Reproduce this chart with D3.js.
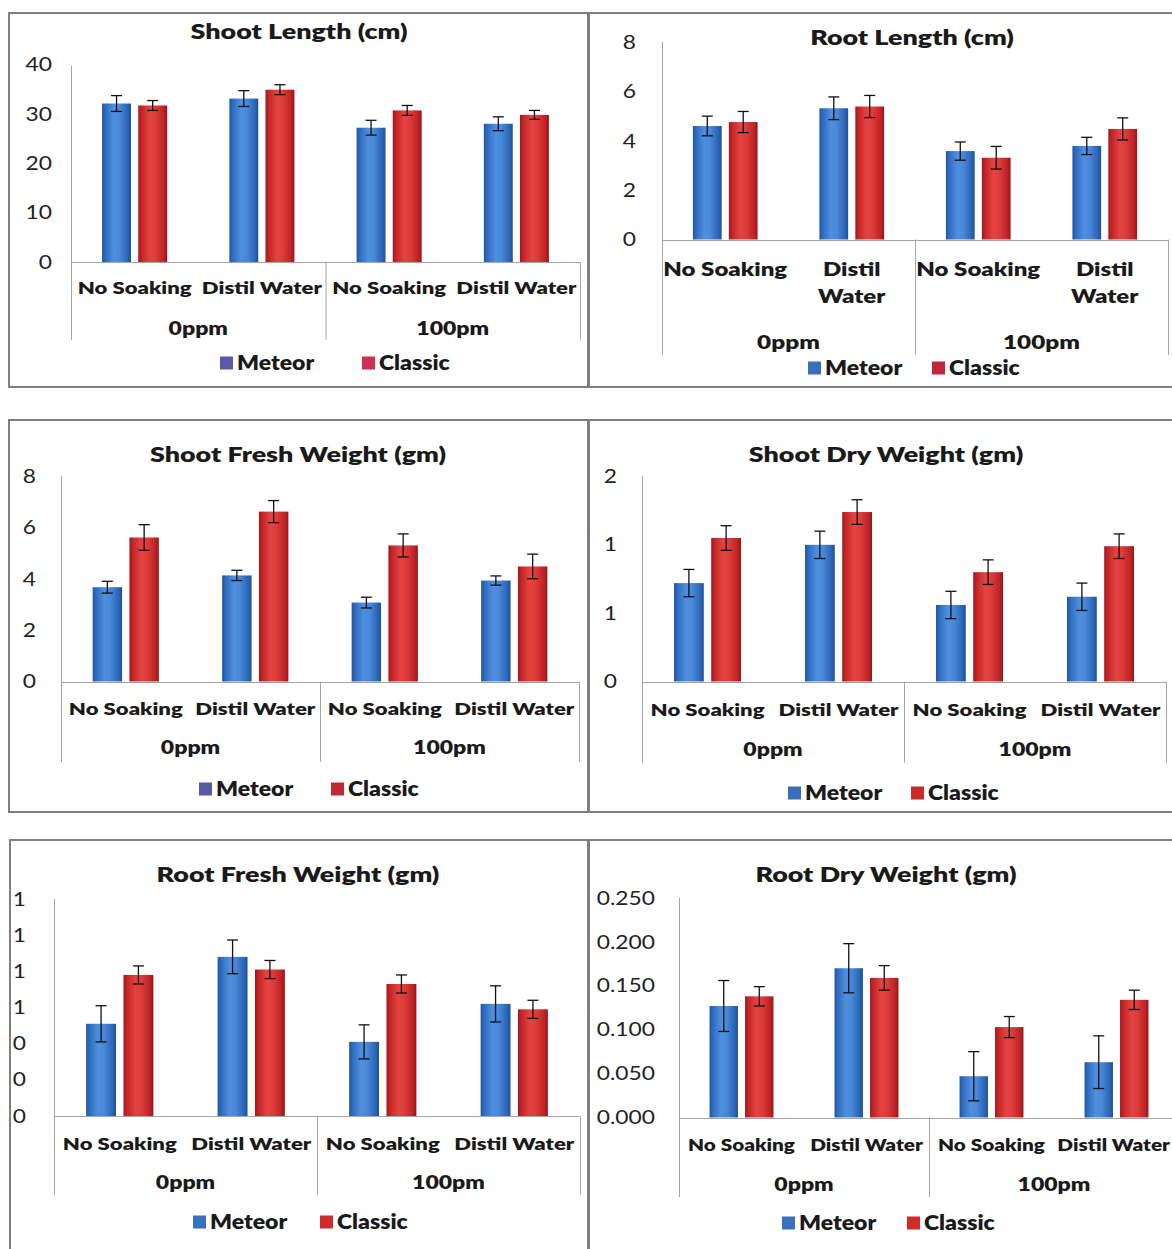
<!DOCTYPE html>
<html><head><meta charset="utf-8">
<script src="https://cdn.jsdelivr.net/npm/d3@7"></script>
<style>body{margin:0;background:#fff}svg{display:block}text{font-family:Lato,"Open Sans",sans-serif}</style>
</head><body><svg id="c" width="1172" height="1249"></svg>
<script>
// ---------- data ----------
const categories = ["No Soaking", "Distil Water", "No Soaking", "Distil Water"];
const groups = ["0ppm", "100pm"];
const seriesNames = ["Meteor", "Classic"];

const shootLengthMeteor = [32.1, 33.1, 27.2, 28.0];
const shootLengthClassic = [31.7, 34.9, 30.7, 29.8];
const shootLengthMeteorErr = [1.6, 1.6, 1.5, 1.4];
const shootLengthClassicErr = [1.0, 1.0, 1.0, 0.9];
const shootLengthTicks = [0, 10, 20, 30, 40];
const shootLengthTickLabels = ["0", "10", "20", "30", "40"];

const rootLengthMeteor = [4.61, 5.33, 3.59, 3.80];
const rootLengthClassic = [4.77, 5.40, 3.32, 4.49];
const rootLengthMeteorErr = [0.40, 0.46, 0.37, 0.35];
const rootLengthClassicErr = [0.43, 0.45, 0.46, 0.45];
const rootLengthTicks = [0, 2, 4, 6, 8];
const rootLengthTickLabels = ["0", "2", "4", "6", "8"];

const shootFreshMeteor = [3.68, 4.14, 3.08, 3.94];
const shootFreshClassic = [5.62, 6.63, 5.31, 4.49];
const shootFreshMeteorErr = [0.23, 0.20, 0.21, 0.18];
const shootFreshClassicErr = [0.50, 0.43, 0.45, 0.48];
const shootFreshTicks = [0, 2, 4, 6, 8];
const shootFreshTickLabels = ["0", "2", "4", "6", "8"];

const shootDryMeteor = [0.72, 1.00, 0.56, 0.62];
const shootDryClassic = [1.05, 1.24, 0.80, 0.99];
const shootDryMeteorErr = [0.10, 0.10, 0.10, 0.10];
const shootDryClassicErr = [0.09, 0.09, 0.09, 0.09];
const shootDryTicks = [0, 0.5, 1, 1.5];
const shootDryTickLabels = ["0", "1", "1", "2"];

const rootFreshMeteor = [0.51, 0.88, 0.41, 0.62];
const rootFreshClassic = [0.78, 0.81, 0.73, 0.59];
const rootFreshMeteorErr = [0.10, 0.093, 0.094, 0.10];
const rootFreshClassicErr = [0.05, 0.05, 0.05, 0.05];
const rootFreshTicks = [0, 0.2, 0.4, 0.6, 0.8, 1.0, 1.2];
const rootFreshTickLabels = ["0", "0", "0", "1", "1", "1", "1"];

const rootDryMeteor = [0.127, 0.170, 0.047, 0.063];
const rootDryClassic = [0.138, 0.159, 0.103, 0.134];
const rootDryMeteorErr = [0.029, 0.028, 0.028, 0.030];
const rootDryClassicErr = [0.011, 0.014, 0.012, 0.011];
const rootDryTicks = [0, 0.05, 0.10, 0.15, 0.20, 0.25];
const rootDryTickLabels = ["0.000", "0.050", "0.100", "0.150", "0.200", "0.250"];

// ---------- layout ----------
const panels = [
  {title:"Shoot Length (cm)", vals:[shootLengthMeteor, shootLengthClassic], errs:[shootLengthMeteorErr, shootLengthClassicErr],
   ticks:shootLengthTicks, tickLabels:shootLengthTickLabels,
   box:[9,13,588,387], x0:71, x1:580, topPx:64.5, zeroPx:262, axisTop:66, sepBottom:340, labelEnd:52,
   titleX:299, titleY:31, catY:288, wrap:false, catSx:1.3, groupY:329, legendY:363, legendX:[220,362], swatch:["#5b5aa6","#cf2f55"]},
  {title:"Root Length (cm)", vals:[rootLengthMeteor, rootLengthClassic], errs:[rootLengthMeteorErr, rootLengthClassicErr],
   ticks:rootLengthTicks, tickLabels:rootLengthTickLabels,
   box:[589,13,1190,387], x0:662, x1:1168, topPx:42.5, zeroPx:239.5, axisTop:42, sepBottom:355, labelEnd:636,
   titleX:912, titleY:37, catY:270, wrap:true, catSx:1.3, groupY:342, legendY:368, legendX:[808,932], swatch:["#3a6fc0","#c0283c"]},
  {title:"Shoot Fresh Weight (gm)", vals:[shootFreshMeteor, shootFreshClassic], errs:[shootFreshMeteorErr, shootFreshClassicErr],
   ticks:shootFreshTicks, tickLabels:shootFreshTickLabels,
   box:[9,420,588,812], x0:61, x1:579, topPx:476.5, zeroPx:681.5, axisTop:476, sepBottom:762, labelEnd:36,
   titleX:298, titleY:454, catY:709, wrap:false, catSx:1.3, groupY:748, legendY:789, legendX:[199,331], swatch:["#5a5aa0","#c02838"]},
  {title:"Shoot Dry Weight (gm)", vals:[shootDryMeteor, shootDryClassic], errs:[shootDryMeteorErr, shootDryClassicErr],
   ticks:shootDryTicks, tickLabels:shootDryTickLabels,
   box:[589,420,1190,812], x0:642, x1:1166, topPx:476.5, zeroPx:681.5, axisTop:476, sepBottom:763, labelEnd:617,
   titleX:886, titleY:454, catY:710, wrap:false, catSx:1.3, groupY:750, legendY:793, legendX:[788,911], swatch:["#3a70b8","#cc2a2a"]},
  {title:"Root Fresh Weight (gm)", vals:[rootFreshMeteor, rootFreshClassic], errs:[rootFreshMeteorErr, rootFreshClassicErr],
   ticks:rootFreshTicks, tickLabels:rootFreshTickLabels,
   box:[10,840,588,1265], x0:54, x1:580, topPx:899, zeroPx:1116, axisTop:899, sepBottom:1195, labelEnd:26,
   titleX:298, titleY:874, catY:1144, wrap:false, catSx:1.3, groupY:1183, legendY:1222, legendX:[193,320], swatch:["#3a70c0","#d02a2a"]},
  {title:"Root Dry Weight (gm)", vals:[rootDryMeteor, rootDryClassic], errs:[rootDryMeteorErr, rootDryClassicErr],
   ticks:rootDryTicks, tickLabels:rootDryTickLabels,
   box:[589,840,1190,1265], x0:679, x1:1179, topPx:898, zeroPx:1117.5, axisTop:898, sepBottom:1197, labelEnd:655,
   titleX:886, titleY:874, catY:1145, wrap:false, catSx:1.22, groupY:1185, legendY:1223, legendX:[782,907], swatch:["#3a70c0","#d02a2a"]}
];

const svg = d3.select("#c");
const defs = svg.append("defs");
function grad(id, stops){
  const g = defs.append("linearGradient").attr("id", id).attr("x1","0").attr("x2","1").attr("y1","0").attr("y2","0");
  stops.forEach(s => g.append("stop").attr("offset", s[0]).attr("stop-color", s[1]));
}
grad("gBlue", [[0,"#2156a3"],[0.12,"#2f6cc0"],[0.4,"#4f8fdf"],[0.6,"#4a88d8"],[0.88,"#2c66b6"],[1,"#1f4f96"]]);
grad("gRed", [[0,"#a3161b"],[0.12,"#c42628"],[0.4,"#e34442"],[0.6,"#dd3c3b"],[0.88,"#be2326"],[1,"#9a1418"]]);
const fills = ["url(#gBlue)", "url(#gRed)"];

svg.append("rect").attr("width",1172).attr("height",1249).attr("fill","#fff");

// text helper: horizontally stretched real text
function txt(g, x, y, str, size, weight, sx, anchor){
  return g.append("text").attr("transform", `translate(${x},${y}) scale(${sx},1)`)
    .attr("dy","0.35em").attr("text-anchor", anchor || "middle")
    .attr("font-size", size).attr("font-weight", weight).attr("fill", "#1a1a1a").text(str);
}

panels.forEach(p => {
  const g = svg.append("g");
  const [bx0, by0, bx1, by1] = p.box;
  g.append("rect").attr("x",bx0).attr("y",by0).attr("width",bx1-bx0).attr("height",by1-by0)
    .attr("fill","#fff").attr("stroke","#7f7f7f").attr("stroke-width",2);

  const yMax = p.ticks[p.ticks.length-1];
  const y = d3.scaleLinear().domain([0, yMax]).range([p.zeroPx, p.topPx]);
  const xCat = d3.scaleBand().domain(d3.range(categories.length)).range([p.x0, p.x1]).paddingInner(0).paddingOuter(0);
  const xSer = d3.scaleBand().domain(seriesNames).range([0, xCat.bandwidth()]).paddingInner(0.2).paddingOuter(0.86);

  // title
  txt(g, p.titleX, p.titleY, p.title, 21.5, 800, 1.25);

  // y tick labels
  p.ticks.forEach((d, i) => {
    g.append("text").attr("class","yt")
      .attr("transform", `translate(${p.labelEnd},${y(d)}) scale(1.2,1)`)
      .attr("dy","0.35em").attr("text-anchor","end")
      .attr("font-size",19).attr("fill","#222").text(p.tickLabels[i]);
  });

  // axis lines
  const axC = "#a6a6a6";
  g.append("line").attr("x1",p.x0+0.5).attr("x2",p.x0+0.5).attr("y1",p.axisTop).attr("y2",p.sepBottom).attr("stroke",axC);
  g.append("line").attr("x1",p.x0).attr("x2",p.x1).attr("y1",Math.round(p.zeroPx)+0.5).attr("y2",Math.round(p.zeroPx)+0.5).attr("stroke",axC);
  const midX = xCat(2);
  [midX, p.x1].forEach(xx => g.append("line").attr("x1",xx+0.5).attr("x2",xx+0.5).attr("y1",p.zeroPx).attr("y2",p.sepBottom).attr("stroke",axC));

  // bars
  seriesNames.forEach((s, si) => {
    g.selectAll("rect.b"+si).data(p.vals[si]).join("rect").attr("class","b"+si)
      .attr("x",(d,i)=>xCat(i)+xSer(s)).attr("width",xSer.bandwidth())
      .attr("y",d=>y(d)).attr("height",d=>p.zeroPx-y(d)).attr("fill",fills[si]);
  });
  // error bars
  seriesNames.forEach((s, si) => {
    p.vals[si].forEach((v, i) => {
      const e = p.errs[si][i];
      const cx = xCat(i)+xSer(s)+xSer.bandwidth()/2;
      const eg = g.append("g").attr("stroke","#111").attr("stroke-width",1.3);
      eg.append("line").attr("x1",cx).attr("x2",cx).attr("y1",y(v+e)).attr("y2",y(v-e));
      eg.append("line").attr("x1",cx-5.5).attr("x2",cx+5.5).attr("y1",y(v+e)).attr("y2",y(v+e));
      eg.append("line").attr("x1",cx-5.5).attr("x2",cx+5.5).attr("y1",y(v-e)).attr("y2",y(v-e));
    });
  });

  // category labels
  categories.forEach((c, i) => {
    let cx = xCat(i)+xCat.bandwidth()/2;
    if (p.wrap && c !== "No Soaking") {
      c.split(" ").forEach((pt, k) => txt(g, cx, p.catY + k*27, pt, 18.5, 800, p.catSx));
    } else {
      const el = txt(g, cx, p.catY, c, p.wrap ? 18.5 : 17, 800, p.catSx);
      // keep text inside the picture
      const w = el.node().getComputedTextLength() * p.catSx;
      if (cx + w/2 > 1170) el.attr("transform", `translate(${1170 - w/2},${p.catY}) scale(${p.catSx},1)`);
    }
  });
  // group labels
  groups.forEach((gname, gi) => {
    const gx = (xCat(gi*2) + xCat(gi*2+1) + xCat.bandwidth())/2;
    txt(g, gx, p.groupY, gname, p.wrap ? 19 : 18, 800, 1.28);
  });
  // legend
  seriesNames.forEach((s, si) => {
    const lx = p.legendX[si];
    g.append("rect").attr("x",lx).attr("y",p.legendY-6.5).attr("width",13).attr("height",13).attr("fill",p.swatch[si]);
    txt(g, lx+17, p.legendY, s, 20, 800, 1.15, "start");
  });
});
</script></body></html>
